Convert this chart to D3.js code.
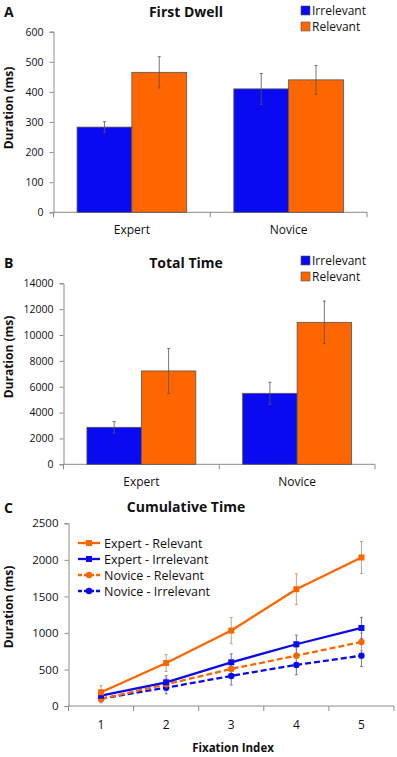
<!DOCTYPE html>
<html><head><meta charset="utf-8">
<script src="https://cdn.jsdelivr.net/npm/d3@7"></script>
<style>
html,body{margin:0;padding:0;background:#fff;}
svg text{font-family:"Open Sans",sans-serif;fill:#111;}
</style></head>
<body><svg id="c" width="397" height="757"></svg>
<script>
// ---- data ----
const groups = ["Expert", "Novice"];
const seriesNames = ["Irrelevant", "Relevant"];
const firstDwell = [[283, 465], [410, 440]];       // [group][series]
const firstDwellErr = [[18, 52], [51, 48]];
const firstDwellTicks = [0, 100, 200, 300, 400, 500, 600];
const totalTime = [[2860, 7220], [5490, 10980]];
const totalTimeErr = [[450, 1740], [850, 1650]];
const totalTimeTicks = [0, 2000, 4000, 6000, 8000, 10000, 12000, 14000];
const fixIndex = [1, 2, 3, 4, 5];
const cumNames = ["Expert - Relevant", "Expert - Irrelevant", "Novice - Relevant", "Novice - Irrelevant"];
const expertRelevant = [188, 589, 1032, 1598, 2032];
const expertRelevantErr = [90, 115, 180, 210, 220];
const expertIrrelevant = [141, 324, 598, 845, 1068];
const expertIrrelevantErr = [60, 90, 115, 125, 145];
const noviceRelevant = [96, 297, 507, 689, 877];
const noviceRelevantErr = [50, 80, 100, 110, 120];
const noviceIrrelevant = [100, 251, 411, 562, 689];
const noviceIrrelevantErr = [55, 85, 123, 135, 150];
const cumTicks = [0, 500, 1000, 1500, 2000, 2500];

const BLUE = "#0a0af0", ORANGE = "#ff6600", AXIS = "#8a8a8a", ERR = "#555";
const svg = d3.select("#c");
const fmt = d3.format("d");

function barPanel(o) {
  const g = svg.append("g");
  const x = d3.scaleBand().domain(groups).range([o.x0, o.x1]);
  const y = d3.scaleLinear().domain([0, o.max]).range([o.yb, o.yt]);
  const inner = d3.scaleBand().domain(seriesNames).range([0, x.bandwidth()]).paddingOuter(0.43).paddingInner(0);
  const ya = g.append("g").attr("transform", `translate(${o.x0},0)`)
    .call(d3.axisLeft(y).tickValues(o.ticks).tickFormat(fmt).tickSize(4).tickPadding(6));
  ya.select(".domain").attr("stroke", AXIS);
  ya.selectAll(".tick line").attr("stroke", AXIS);
  ya.selectAll("text").style("font-size", "10.5px").attr("fill", "#111");
  g.append("line").attr("x1", o.x0).attr("x2", o.x1).attr("y1", o.yb).attr("y2", o.yb).attr("stroke", AXIS);
  [o.x0, o.x0 + x.step(), o.x1].forEach(t => g.append("line").attr("x1", t).attr("x2", t)
      .attr("y1", o.yb).attr("y2", o.yb + 5).attr("stroke", AXIS));
  groups.forEach((gr, gi) => {
    seriesNames.forEach((s, si) => {
      const bx = x(gr) + inner(s);
      const v = o.vals[gi][si], e = o.errs[gi][si];
      g.append("rect").attr("x", bx).attr("y", y(v)).attr("width", inner.bandwidth())
        .attr("height", y(0) - y(v)).attr("fill", si ? ORANGE : BLUE).attr("stroke", "#555").attr("stroke-width", 0.8);
      const cx = bx + inner.bandwidth() / 2;
      g.append("line").attr("x1", cx).attr("x2", cx).attr("y1", y(v + e)).attr("y2", y(v - e)).attr("stroke", ERR).attr("stroke-width", 0.8);
      [v + e, v - e].forEach(w => g.append("line").attr("x1", cx - 1.5).attr("x2", cx + 1.5)
        .attr("y1", y(w)).attr("y2", y(w)).attr("stroke", ERR).attr("stroke-width", 0.8));
    });
    g.append("text").attr("x", x(gr) + x.bandwidth() / 2).attr("y", o.labelY).attr("text-anchor", "middle")
      .style("font-size", "12px").text(gr);
  });
  g.append("text").attr("x", 186).attr("y", o.titleY).attr("text-anchor", "middle")
    .style("font-size", "14px").style("font-weight", "bold").text(o.title);
  g.append("text").attr("x", 4).attr("y", o.titleY).style("font-size", "14px").style("font-weight", "bold").text(o.letter);
  g.append("text").attr("transform", `translate(13,${o.ylabY}) rotate(-90)`).attr("text-anchor", "middle")
    .style("font-size", "12px").style("font-weight", "bold").text("Duration (ms)");
  seriesNames.forEach((s, si) => {
    const ly = o.legY + si * 16;
    g.append("rect").attr("x", o.legX).attr("y", ly - 9).attr("width", 9).attr("height", 9)
      .attr("fill", si ? ORANGE : BLUE).attr("stroke", "#555").attr("stroke-width", 0.6);
    g.append("text").attr("x", o.legX + 11).attr("y", ly).style("font-size", "12px").text(s);
  });
}

barPanel({x0: 53.5, x1: 367, yt: 31.7, yb: 212.3, max: 600, ticks: firstDwellTicks,
  vals: firstDwell, errs: firstDwellErr, labelY: 234, title: "First Dwell", titleY: 17, letter: "A",
  ylabY: 108, legX: 301, legY: 15});
barPanel({x0: 63.5, x1: 375, yt: 283.3, yb: 464.3, max: 14000, ticks: totalTimeTicks,
  vals: totalTime, errs: totalTimeErr, labelY: 486, title: "Total Time", titleY: 268, letter: "B",
  ylabY: 357, legX: 301, legY: 265});

// ---- panel C ----
(function () {
  const g = svg.append("g");
  const x0 = 68.5, x1 = 394, yt = 523.3, yb = 706;
  const x = d3.scaleLinear().domain([0.5, 5.5]).range([x0, x1]);
  const y = d3.scaleLinear().domain([0, 2500]).range([yb, yt]);
  const ya = g.append("g").attr("transform", `translate(${x0},0)`)
    .call(d3.axisLeft(y).tickValues(cumTicks).tickFormat(fmt).tickSize(4).tickPadding(6));
  ya.select(".domain").attr("stroke", AXIS);
  ya.selectAll(".tick line").attr("stroke", AXIS);
  ya.selectAll("text").style("font-size", "11.5px").attr("fill", "#111");
  g.append("line").attr("x1", x0).attr("x2", x1).attr("y1", yb).attr("y2", yb).attr("stroke", AXIS);
  [0.5, 1.5, 2.5, 3.5, 4.5, 5.5].forEach(t => g.append("line").attr("x1", x(t)).attr("x2", x(t))
    .attr("y1", yb).attr("y2", yb + 5).attr("stroke", AXIS));
  fixIndex.forEach(i => g.append("text").attr("x", x(i)).attr("y", 729).attr("text-anchor", "middle")
    .style("font-size", "12px").text(i));
  const series = [
    {name: cumNames[0], v: expertRelevant, e: expertRelevantErr, c: ORANGE, dash: null, sq: true, ec: "#c8a080"},
    {name: cumNames[1], v: expertIrrelevant, e: expertIrrelevantErr, c: BLUE, dash: null, sq: true, ec: "#7070c0"},
    {name: cumNames[2], v: noviceRelevant, e: noviceRelevantErr, c: ORANGE, dash: "6,3", sq: false, ec: "#c8a080"},
    {name: cumNames[3], v: noviceIrrelevant, e: noviceIrrelevantErr, c: BLUE, dash: "6,3", sq: false, ec: "#7070c0"}
  ];
  const line = d3.line().x((d, i) => x(fixIndex[i])).y(d => y(d));
  series.slice().reverse().forEach(s => {
    s.v.forEach((v, i) => {
      const cx = x(fixIndex[i]);
      g.append("line").attr("x1", cx).attr("x2", cx).attr("y1", y(v + s.e[i])).attr("y2", y(v - s.e[i]))
        .attr("stroke", s.ec).attr("stroke-width", 1);
      [v + s.e[i], v - s.e[i]].forEach(w => g.append("line").attr("x1", cx - 1.5).attr("x2", cx + 1.5)
        .attr("y1", y(w)).attr("y2", y(w)).attr("stroke", s.ec).attr("stroke-width", 1));
    });
  });
  function marker(sel, s, cx, cy) {
    if (s.sq) sel.append("rect").attr("x", cx - 3).attr("y", cy - 3).attr("width", 6).attr("height", 6).attr("fill", s.c);
    else sel.append("circle").attr("cx", cx).attr("cy", cy).attr("r", 3.2).attr("fill", s.c);
  }
  series.slice().reverse().forEach(s => {
    g.append("path").attr("d", line(s.v)).attr("fill", "none").attr("stroke", s.c)
      .attr("stroke-width", 2.3).attr("stroke-dasharray", s.dash);
    s.v.forEach((v, i) => marker(g, s, x(fixIndex[i]), y(v)));
  });
  series.forEach((s, k) => {
    const ly = 543 + k * 16;
    g.append("line").attr("x1", 78).attr("x2", 100).attr("y1", ly).attr("y2", ly).attr("stroke", s.c)
      .attr("stroke-width", 2.3).attr("stroke-dasharray", s.dash ? "4,2" : null);
    marker(g, s, 89, ly);
    g.append("text").attr("x", 104).attr("y", ly + 4.5).style("font-size", "12.5px").text(s.name);
  });
  g.append("text").attr("x", 186).attr("y", 512).attr("text-anchor", "middle")
    .style("font-size", "14px").style("font-weight", "bold").text("Cumulative Time");
  g.append("text").attr("x", 4).attr("y", 513).style("font-size", "14px").style("font-weight", "bold").text("C");
  g.append("text").attr("x", 233).attr("y", 752).attr("text-anchor", "middle")
    .style("font-size", "11.5px").style("font-weight", "bold").text("Fixation Index");
  g.append("text").attr("transform", `translate(13,607) rotate(-90)`).attr("text-anchor", "middle")
    .style("font-size", "12px").style("font-weight", "bold").text("Duration (ms)");
})();
</script></body></html>
